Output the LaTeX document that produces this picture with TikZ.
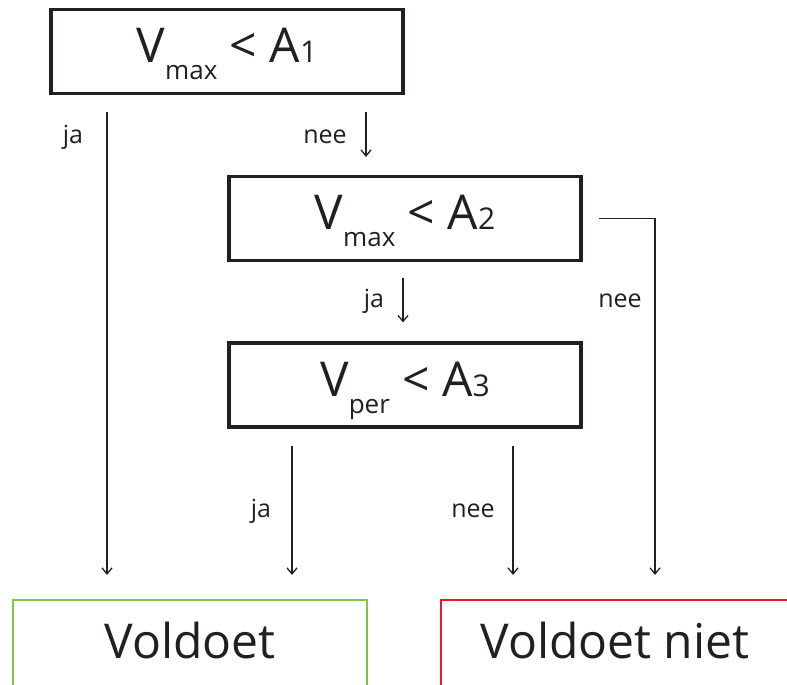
\documentclass[tikz,border=0pt]{standalone}
\usepackage{fontspec}
\usetikzlibrary{arrows.meta}
\setmainfont{Open Sans}
\definecolor{okgreen}{RGB}{122,200,70}
\definecolor{notred}{RGB}{232,28,36}
\definecolor{ink}{RGB}{35,31,32}
\newcommand{\Vcheck}[2]{V\raisebox{-17pt}{\fontsize{26}{26}\selectfont #1} < A{\fontsize{30}{30}\selectfont #2}}

\begin{document}
\begin{tikzpicture}[x=1pt,y=-1pt,font=\fontsize{48}{48}\selectfont,color=ink,
    check/.style={draw,line width=3.2pt,minimum width=352pt,minimum height=84pt,inner sep=0pt,text height=36pt,text depth=14pt},
    result/.style={draw,line width=2.2pt,minimum width=354pt,minimum height=100pt,inner sep=0pt,text height=36pt,text depth=20pt},
    answer/.style={font=\fontsize{25}{25}\selectfont,anchor=base,inner sep=0pt},
    flow/.style={line width=1.3pt,-{Straight Barb[length=6pt,width=10pt]}}]
    \useasboundingbox (0,0) rectangle (787,685);

    \node[check] (A1) at (227,51.5) {\Vcheck{max}{1}};
    \node[check] (A2) at (405,218.5) {\Vcheck{max}{2}};
    \node[check] (A3) at (405,385) {\Vcheck{per}{3}};
    \node[result,draw=okgreen] (Voldoet) at (190,650) {Voldoet};
    \node[result,draw=notred,minimum width=348pt] (Niet) at (615,650) {Voldoet niet};

    % x positions of the arrows
    \coordinate (c1) at (107,0);
    \coordinate (c2) at (366,0);
    \coordinate (c3) at (403,0);
    \coordinate (c4) at (655,0);
    \coordinate (c5) at (292,0);
    \coordinate (c6) at (513,0);

    \node[answer] (ja1) at (73,143) {ja};
    \node[answer] (nee1) at (325,143) {nee};
    \node[answer] (ja2) at (374,307) {ja};
    \node[answer] (nee2) at (620,307) {nee};
    \node[answer] (ja3) at (261,517) {ja};
    \node[answer] (nee3) at (473,517) {nee};

    \begin{scope}[every path/.style={flow}]
       \draw[shorten <=17pt,shorten >=24pt] (A1.south -| c1) -- (Voldoet.north -| c1);
       \draw[shorten <=17pt,shorten >=18pt] (A1.south -| c2) -- (A2.north -| c2);
       \draw[shorten <=16pt,shorten >=19pt] (A2.south -| c3) -- (A3.north -| c3);
       \draw[shorten <=16pt,shorten >=24pt] (A2.east) -| (Niet.north -| c4);
       \draw[shorten <=17pt,shorten >=24pt] (A3.south -| c5) -- (Voldoet.north -| c5);
       \draw[shorten <=17pt,shorten >=24pt] (A3.south -| c6) -- (Niet.north -| c6);
    \end{scope}
\end{tikzpicture}
\end{document}
